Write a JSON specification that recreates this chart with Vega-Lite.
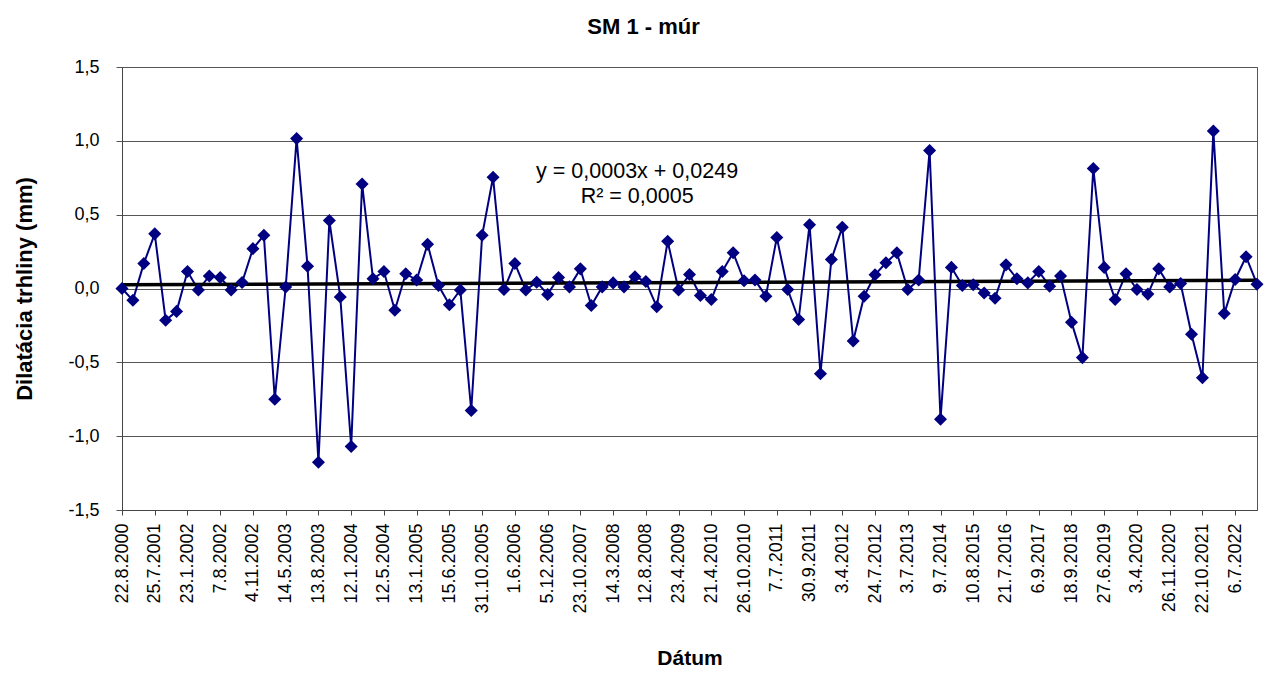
{
  "$schema": "https://vega.github.io/schema/vega-lite/v6.json",
  "autosize": "none",
  "width": 1135,
  "height": 443,
  "padding": {"left": 122, "top": 67, "right": 8, "bottom": 164},
  "background": "white",
  "title": {"text": "SM 1 - múr", "font": "Liberation Sans", "fontSize": 22, "fontWeight": "bold", "color": "black", "anchor": "middle", "frame": "group", "dx": -46, "offset": 2, "baseline": "alphabetic"},
  "config": {"view": {"stroke": "#555", "strokeWidth": 1}, "font": "Liberation Sans"},
  "datasets": {
    "series": [
      {"i": 0, "y": 0.0}, {"i": 1, "y": -0.08}, {"i": 2, "y": 0.17}, {"i": 3, "y": 0.37}, {"i": 4, "y": -0.215},
      {"i": 5, "y": -0.155}, {"i": 6, "y": 0.115}, {"i": 7, "y": -0.01}, {"i": 8, "y": 0.085}, {"i": 9, "y": 0.075},
      {"i": 10, "y": -0.01}, {"i": 11, "y": 0.04}, {"i": 12, "y": 0.27}, {"i": 13, "y": 0.36}, {"i": 14, "y": -0.75},
      {"i": 15, "y": 0.01}, {"i": 16, "y": 1.015}, {"i": 17, "y": 0.15}, {"i": 18, "y": -1.176}, {"i": 19, "y": 0.46},
      {"i": 20, "y": -0.057}, {"i": 21, "y": -1.07}, {"i": 22, "y": 0.708}, {"i": 23, "y": 0.066}, {"i": 24, "y": 0.115},
      {"i": 25, "y": -0.147}, {"i": 26, "y": 0.1}, {"i": 27, "y": 0.057}, {"i": 28, "y": 0.3}, {"i": 29, "y": 0.02},
      {"i": 30, "y": -0.11}, {"i": 31, "y": -0.01}, {"i": 32, "y": -0.826}, {"i": 33, "y": 0.36}, {"i": 34, "y": 0.753},
      {"i": 35, "y": -0.007}, {"i": 36, "y": 0.17}, {"i": 37, "y": -0.01}, {"i": 38, "y": 0.043}, {"i": 39, "y": -0.04},
      {"i": 40, "y": 0.075}, {"i": 41, "y": 0.011}, {"i": 42, "y": 0.133}, {"i": 43, "y": -0.115}, {"i": 44, "y": 0.011},
      {"i": 45, "y": 0.038}, {"i": 46, "y": 0.011}, {"i": 47, "y": 0.08}, {"i": 48, "y": 0.047}, {"i": 49, "y": -0.124},
      {"i": 50, "y": 0.32}, {"i": 51, "y": -0.01}, {"i": 52, "y": 0.095}, {"i": 53, "y": -0.048}, {"i": 54, "y": -0.075},
      {"i": 55, "y": 0.115}, {"i": 56, "y": 0.242}, {"i": 57, "y": 0.052}, {"i": 58, "y": 0.057}, {"i": 59, "y": -0.052},
      {"i": 60, "y": 0.346}, {"i": 61, "y": -0.007}, {"i": 62, "y": -0.21}, {"i": 63, "y": 0.432}, {"i": 64, "y": -0.577},
      {"i": 65, "y": 0.197}, {"i": 66, "y": 0.414}, {"i": 67, "y": -0.355}, {"i": 68, "y": -0.052}, {"i": 69, "y": 0.093},
      {"i": 70, "y": 0.174}, {"i": 71, "y": 0.242}, {"i": 72, "y": -0.007}, {"i": 73, "y": 0.057}, {"i": 74, "y": 0.934},
      {"i": 75, "y": -0.885}, {"i": 76, "y": 0.143}, {"i": 77, "y": 0.02}, {"i": 78, "y": 0.025}, {"i": 79, "y": -0.03},
      {"i": 80, "y": -0.066}, {"i": 81, "y": 0.16}, {"i": 82, "y": 0.066}, {"i": 83, "y": 0.038}, {"i": 84, "y": 0.115},
      {"i": 85, "y": 0.016}, {"i": 86, "y": 0.084}, {"i": 87, "y": -0.228}, {"i": 88, "y": -0.468}, {"i": 89, "y": 0.812},
      {"i": 90, "y": 0.143}, {"i": 91, "y": -0.075}, {"i": 92, "y": 0.1}, {"i": 93, "y": -0.007}, {"i": 94, "y": -0.038},
      {"i": 95, "y": 0.133}, {"i": 96, "y": 0.011}, {"i": 97, "y": 0.034}, {"i": 98, "y": -0.31}, {"i": 99, "y": -0.604},
      {"i": 100, "y": 1.066}, {"i": 101, "y": -0.17}, {"i": 102, "y": 0.061}, {"i": 103, "y": 0.215}, {"i": 104, "y": 0.029}
    ],
    "trend": [{"i": 0, "y": 0.0252}, {"i": 104, "y": 0.0564}],
    "eq": [
      {"i": 47.2, "y": 0.749, "label": "y = 0,0003x + 0,0249"},
      {"i": 47.2, "y": 0.579, "label": "R² = 0,0005"}
    ]
  },
  "encoding": {
    "x": {
      "field": "i", "type": "quantitative",
      "scale": {"domain": [0, 104], "nice": false, "zero": false},
      "axis": {
        "title": "Dátum",
        "values": [0, 3, 6, 9, 12, 15, 18, 21, 24, 27, 30, 33, 36, 39, 42, 45, 48, 51, 54, 57, 60, 63, 66, 69, 72, 75, 78, 81, 84, 87, 90, 93, 96, 99, 102],
        "labelExpr": "['22.8.2000','25.7.2001','23.1.2002','7.8.2002','4.11.2002','14.5.2003','13.8.2003','12.1.2004','12.5.2004','13.1.2005','15.6.2005','31.10.2005','1.6.2006','5.12.2006','23.10.2007','14.3.2008','12.8.2008','23.4.2009','21.4.2010','26.10.2010','7.7.2011','30.9.2011','3.4.2012','24.7.2012','3.7.2013','9.7.2014','10.8.2015','21.7.2016','6.9.2017','18.9.2018','27.6.2019','3.4.2020','26.11.2020','22.10.2021','6.7.2022'][round(datum.value/3)]",
        "labelAngle": -90, "labelOverlap": false, "labelFlush": false,
        "grid": false, "tickSize": 5, "tickColor": "#444", "domainColor": "#444",
        "labelPadding": 8, "labelFontSize": 18, "labelColor": "black", "labelFont": "Liberation Sans",
        "titleFontSize": 21, "titleFontWeight": "bold", "titleColor": "black", "titleFont": "Liberation Sans", "titlePadding": 34
      }
    },
    "y": {
      "field": "y", "type": "quantitative",
      "scale": {"domain": [-1.5, 1.5], "nice": false, "zero": false},
      "axis": {
        "title": "Dilatácia trhliny (mm)",
        "values": [-1.5, -1, -0.5, 0, 0.5, 1, 1.5],
        "labelExpr": "replace(replace(format(datum.value, '.1f'), '.', ','), '\u2212', '-')",
        "grid": true, "gridColor": "#555", "gridWidth": 1,
        "tickSize": 6, "tickColor": "#555", "domainColor": "#444",
        "labelPadding": 17, "labelFontSize": 18, "labelColor": "black", "labelFont": "Liberation Sans",
        "titleFontSize": 22, "titleFontWeight": "bold", "titleColor": "black", "titleFont": "Liberation Sans", "titlePadding": 31
      }
    }
  },
  "layer": [
    {"data": {"name": "series"}, "mark": {"type": "line", "color": "#000080", "strokeWidth": 2}},
    {"data": {"name": "trend"}, "mark": {"type": "line", "color": "black", "strokeWidth": 3.5}},
    {"data": {"name": "series"}, "mark": {"type": "point", "shape": "diamond", "filled": true, "size": 170, "color": "#000080", "opacity": 1}},
    {"data": {"name": "eq"}, "mark": {"type": "text", "fontSize": 21.5, "font": "Liberation Sans", "color": "black", "baseline": "alphabetic", "align": "center"}, "encoding": {"text": {"field": "label"}}}
  ]
}
